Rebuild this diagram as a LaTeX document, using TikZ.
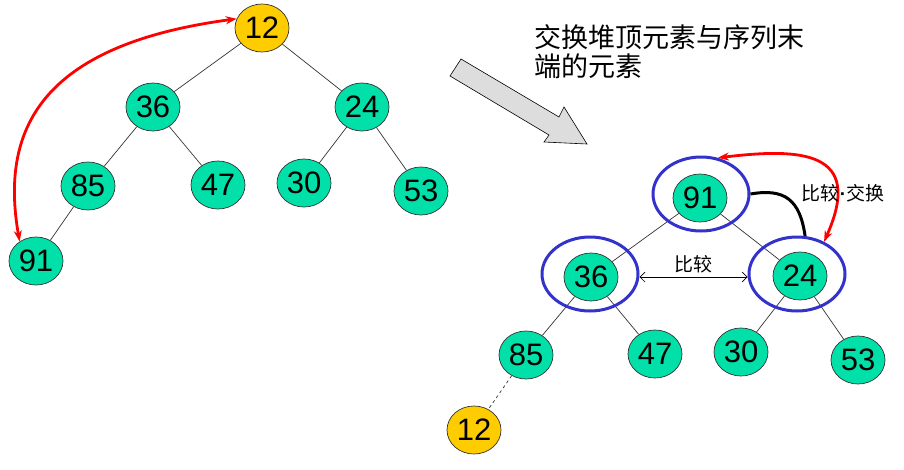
\documentclass[tikz,border=0pt]{standalone}
\usepackage{fontspec}
\setmainfont{Liberation Sans}
\newfontfamily\cjk{Noto Sans CJK SC}
\usetikzlibrary{shapes.geometric,arrows.meta}
\definecolor{nodegreen}{RGB}{0,224,168}
\definecolor{nodeyellow}{RGB}{255,204,0}
\definecolor{ringblue}{RGB}{51,51,204}
\definecolor{arrowgray}{RGB}{221,221,221}
\begin{document}
\begin{tikzpicture}[x=1pt,y=-1pt,
 num/.style={ellipse,draw=black!80,line width=0.7pt,minimum width=54pt,minimum height=48pt,inner sep=0pt,font=\fontsize{31}{31}\selectfont},
 gnode/.style={num,fill=nodegreen},
 ynode/.style={num,fill=nodeyellow},
 ring/.style={ellipse,draw=ringblue,line width=3pt,minimum width=96pt,minimum height=74pt,inner sep=0pt},
 edge/.style={draw=black!80,line width=0.7pt},
 swap/.style={draw=red,line width=2.8pt,{Stealth[length=11pt,width=8pt]}-{Stealth[length=11pt,width=8pt]}},
 cmp/.style={draw=black,line width=0.7pt,{Straight Barb[length=5pt,width=10pt]}-{Straight Barb[length=5pt,width=10pt]}},
 cjklabel/.style={font=\cjk\fontsize{19}{19}\selectfont,inner sep=0pt},
 cjktitle/.style={font=\cjk\fontsize{27}{29}\selectfont,inner sep=0pt,anchor=base west}
]
\useasboundingbox (0,0) rectangle (904,469);
% left tree
\node[ynode] (L12) at (262,28) {12};
\node[gnode] (L36) at (153,107) {36};
\node[gnode] (L24) at (362,107) {24};
\node[gnode] (L85) at (88,186) {85};
\node[gnode] (L47) at (218,185) {47};
\node[gnode] (L30) at (304,183) {30};
\node[gnode] (L53) at (421,191) {53};
\node[gnode] (L91) at (36,261) {91};
\draw[edge] (L12) -- (L36);
\draw[edge] (L12) -- (L24);
\draw[edge] (L36) -- (L85);
\draw[edge] (L36) -- (L47);
\draw[edge] (L24) -- (L30);
\draw[edge] (L24) -- (L53);
\draw[edge] (L85) -- (L91);
\draw[swap] (L12.160) .. controls (40,45) and (0,130) .. (L91.130);
% big gray arrow
\draw[fill=arrowgray,draw=black,line width=0.6pt] (461,59) -- (559,117) -- (564,107) -- (587,144) -- (544,142) -- (549,135) -- (450,76) -- cycle;
\node[cjktitle] (T1) at (534,47) {交换堆顶元素与序列末};
\node[cjktitle] (T2) at (534,76) {端的元素};
% right tree
\node[gnode] (R91) at (700,198) {91};
\node[gnode] (R36) at (591,277) {36};
\node[gnode] (R24) at (800,276) {24};
\node[gnode] (R85) at (526,355) {85};
\node[gnode] (R47) at (655,354) {47};
\node[gnode] (R30) at (741,352) {30};
\node[gnode] (R53) at (858,360) {53};
\node[ynode] (R12) at (474,430) {12};
\draw[edge] (R91) -- (R36);
\draw[edge] (R91) -- (R24);
\draw[edge] (R36) -- (R85);
\draw[edge] (R36) -- (R47);
\draw[edge] (R24) -- (R30);
\draw[edge] (R24) -- (R53);
\draw[edge,dashed] (R85) -- (R12);
\node[ring] (B91) at (701,194) {};
\node[ring] (B36) at (590,274) {};
\node[ring] (B24) at (797,274) {};
\draw[cmp] ([yshift=-3pt]B36.east) -- ([yshift=-3pt]B24.west);
\node[cjklabel] (C1) at (693,264) {比较};
\draw[line width=3pt] (B91.east) .. controls (785,188) and (800,200) .. (B24.78);
\draw[swap] (B91.65) .. controls (800,148) and (865,150) .. (B24.50);
\node[cjklabel] (C2) at (843,193) {比较{\rmfamily\bfseries ·}交换};
\end{tikzpicture}
\end{document}
